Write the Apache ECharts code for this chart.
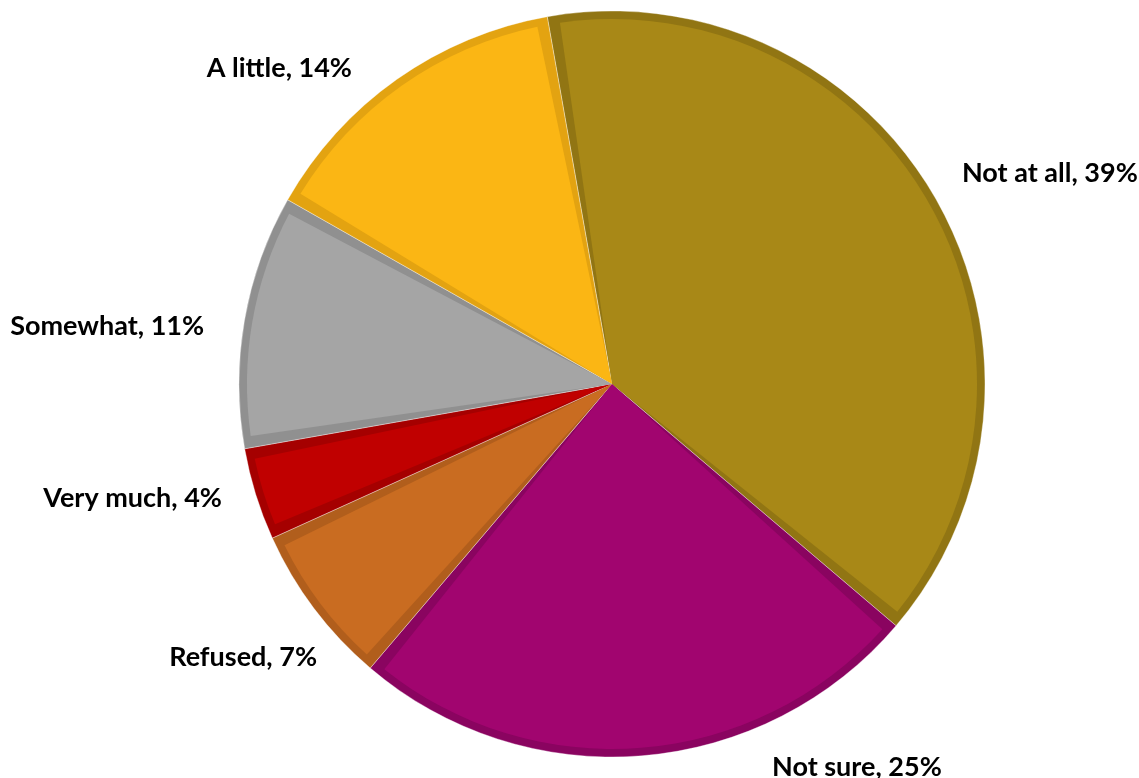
<!DOCTYPE html>
<html>
<head>
<meta charset="utf-8">
<script src="https://cdn.jsdelivr.net/npm/echarts@6/dist/echarts.min.js"></script>
<style>
  html, body { margin: 0; padding: 0; background: #ffffff; }
  #chart { width: 1139px; height: 778px; }
</style>
</head>
<body>
<div id="chart"></div>
<script>
// Survey answers, clockwise from just left of 12 o'clock
const categories = ['Not at all', 'Not sure', 'Refused', 'Very much', 'Somewhat', 'A little'];
const shares = [39, 25, 7, 4, 11, 14];

// Slice face colours and the darker rim around each face
const faceColors = ['#A88817', '#A1056F', '#C96C21', '#C00000', '#A5A5A5', '#FBB614'];
const rimColors  = ['#917513', '#8A0460', '#B15E1C', '#A50000', '#909090', '#E3A311'];

// Label placement per slice: radial run out from the rim, then horizontal run (leader line hidden)
const labelRadial = [51.5, 11.2, 80.6, 12.5, -32, 13.7];
const labelRun    = [-23.4, 124.2, -72.3, 16.8, 66.9, 32.1];

const chart = echarts.init(document.getElementById('chart'), null, { renderer: 'canvas' });

const rimData = categories.map((name, i) => ({
  name: name,
  value: shares[i],
  itemStyle: { color: rimColors[i] },
  labelLine: { show: false, length: labelRadial[i], length2: labelRun[i] }
}));

const faceData = categories.map((name, i) => ({
  name: name,
  value: shares[i],
  itemStyle: { color: faceColors[i] }
}));

chart.setOption({
  backgroundColor: '#ffffff',
  animation: false,
  series: [
    {
      // outer rim layer, carries the labels
      type: 'pie',
      left: 0, top: 0, right: -200, bottom: -60,
      center: [612, 384],
      radius: 373,
      startAngle: 100,
      clockwise: true,
      silent: true,
      avoidLabelOverlap: false,
      itemStyle: { borderColor: 'rgba(255,255,255,0.35)', borderWidth: 1 },
      label: {
        show: true,
        position: 'outside',
        alignTo: 'none',
        distanceToLabelLine: 5,
        width: 320,
        overflow: 'none',
        color: '#000000',
        fontFamily: 'Lato',
        fontWeight: 'bold',
        fontSize: 27,
        formatter: p => p.name + ', ' + p.value + '%'
      },
      labelLine: { show: false },
      emphasis: { disabled: true },
      data: rimData
    },
    {
      // inset face layer
      type: 'pie',
      left: 0, top: 0, right: -200, bottom: -60,
      center: [612, 384],
      radius: 365,
      startAngle: 100,
      clockwise: true,
      padAngle: 3.6,
      silent: true,
      label: { show: false },
      labelLine: { show: false },
      emphasis: { disabled: true },
      data: faceData
    }
  ]
});
</script>
</body>
</html>
